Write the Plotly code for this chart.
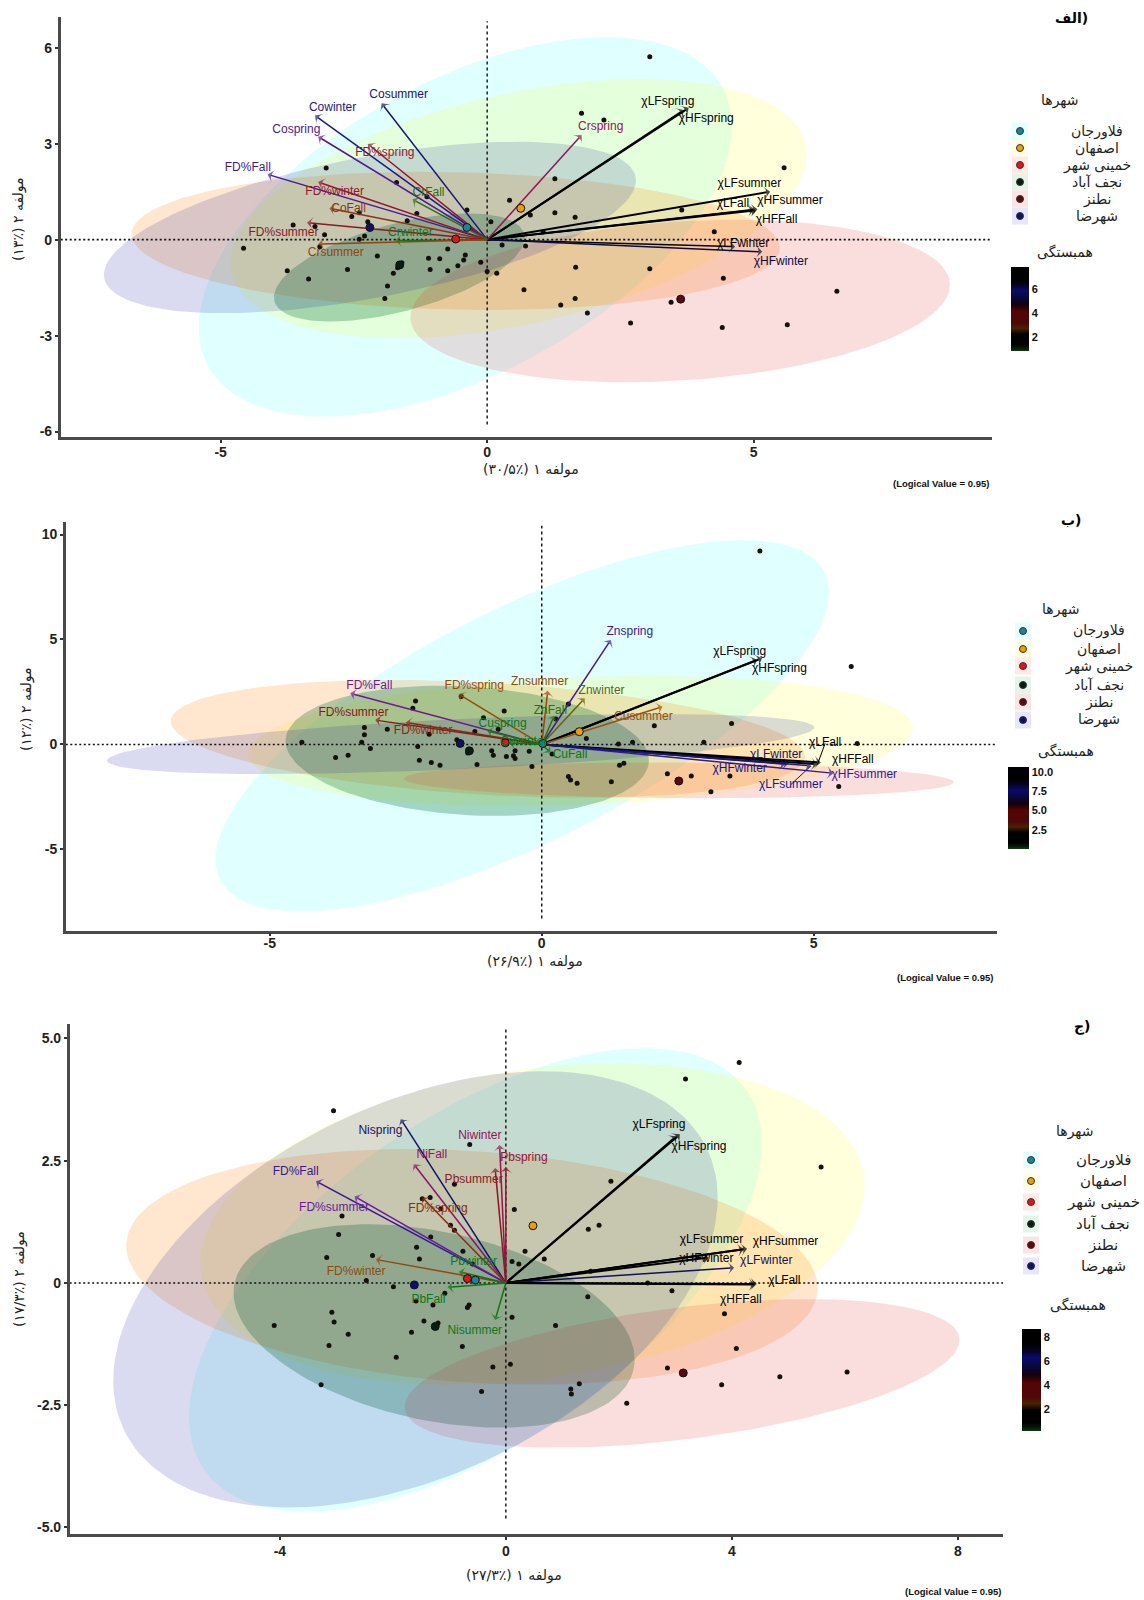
import numpy as np
import plotly.graph_objects as go

W_PX, H_PX = 1144, 1600

cities = ["فلاورجان", "اصفهان", "خمینی شهر", "نجف آباد", "نطنز", "شهرضا"]

# ---------- Panel A ----------
a_xticks = [-5, 0, 5]
a_yticks = [-6, -3, 0, 3, 6]
a_ytext = ["-6", "-3", "0", "3", "6"]
a_xrange = [-8.0, 9.47]
a_yrange = [-6.17, 6.96]
a_ell_cx = [-0.41, 0.59, -0.59, -1.65, 3.62, -2.2]
a_ell_cy = [0.40, 0.97, -0.04, -0.87, -1.92, 0.38]
a_ell_w = [5.0, 5.4, 6.08, 2.35, 5.06, 4.99]
a_ell_h = [5.93, 4.05, 2.16, 1.69, 2.54, 2.68]
a_ell_r = [0.53, 0.42, -0.1, 0.55, 0.2, 0.55]
a_px = [3.05,1.77,2.19,5.57,-3.02,1.27,-1.7,-1.13,.42,-.38,.81,1.27,1.65,3.65,.07,-1.32,-1.5,-2.24,-2.4,-2.54,-3.64,-3.23,-3.05,-2.3,-2.4,1.05,4.26,-4.57,-3.14,.28,.72,-.74,-2.06,-1.1,-.89,-.41,-.44,-.12,-1.6,-1.68,-.55,-.74,-1.07,-2.62,-3.75,-3.35,-1.76,0,.18,1.66,3.05,4.43,-1.87,-1.92,.69,1.65,1.38,1.88,3.45,6.56,2.69,4.41,5.63]
a_py = [5.72,3.95,3.74,2.25,2.24,1.9,1.79,1.34,1.23,.93,.77,.84,.7,.93,.56,.82,.59,.56,.84,.72,.46,.41,.15,.11,.01,.25,.25,-.27,-.22,-.17,-.2,-.29,-.51,-.58,-.6,-.48,-.64,-.71,-.72,-.88,-.82,-.97,-.93,-.93,-.97,-1.23,-1.05,-1.0,-1.05,-.86,-.91,-1.21,-1.45,-1.84,-1.57,-1.84,-2.04,-2.29,-1.96,-1.61,-2.61,-2.75,-2.66]
a_cx = [-.38, .63, -.59, -1.64, 3.63, -2.2]
a_cy = [.38, .98, .02, -.79, -1.86, .38]
a_names = ["χLFspring","χHFspring","χLFsummer","χHFsummer","χLFall","χHFFall","χLFwinter","χHFwinter","Crspring","Cosummer","Cowinter","Cospring","FD%spring","FD%Fall","FD%winter","CoFall","CrFall","FD%summer","Crwinter","Crsummer"]
a_ax = [3.78,3.69,5.31,5.0,5.07,5.04,4.65,5.16,1.77,-1.98,-3.23,-3.17,-2.24,-4.12,-3.17,-2.96,-1.4,-3.38,-1.72,-3.17]
a_ay = [4.12,4.05,1.5,.93,.95,.91,-.22,-.38,3.27,4.26,3.88,3.22,2.99,2.04,1.8,.98,1.26,.53,-.03,-.14]
a_lx = [3.39,4.11,4.92,5.68,4.61,5.43,4.8,5.51,2.13,-1.66,-2.9,-3.58,-1.92,-4.49,-2.86,-2.6,-1.1,-3.82,-1.44,-2.84]
a_ly = [4.31,3.78,1.75,1.2,1.11,.61,-.14,-.69,3.51,4.52,4.11,3.42,2.71,2.25,1.48,.96,1.47,.22,.21,-.43]
a_corr = [7.4,7.4,6.9,6.4,6.6,6.4,6.3,5.9,3.9,5.5,5.3,4.8,3.5,4.9,3.4,2.6,1.3,3.3,1.1,2.4]
a_links = []
a_bar = [0.83, 7.83]
a_bar_ticks = [2, 4, 6]
a_bar_text = ["2", "4", "6"]

# ---------- Panel B ----------
b_xticks = [-5, 0, 5]
b_yticks = [-5, 0, 5, 10]
b_ytext = ["-5", "0", "5", "10"]
b_xrange = [-8.75, 8.37]
b_yrange = [-8.87, 10.61]
b_ell_cx = [-0.36, 0.71, -0.99, -1.37, 2.52, -1.49]
b_ell_cy = [0.89, 0.17, 0.27, -0.3, -1.71, 0.02]
b_ell_w = [5.64, 6.11, 5.83, 3.34, 5.05, 6.5]
b_ell_h = [8.84, 3.1, 2.8, 3.1, 0.85, 1.43]
b_ell_r = [0.72, 0.2, -0.3, -0.15, -0.1, 0.55]
b_px = [4.01,5.69,-2.32,-2.37,-.69,-1.07,-1.48,.49,.26,3.49,2.07,-3.26,-3.26,-2.84,-2.07,-1.23,-.8,-4.41,-3.31,-1.56,.82,1.41,1.67,2.98,5.8,-2.28,-3.15,-1.36,-.92,-.89,-.49,-.23,-.52,-.65,-.49,-3.79,-3.56,-2.25,-2.03,-1.87,-1.19,-.18,.19,1.43,1.51,.49,.53,.65,1.28,2.31,2.75,3.46,3.11,5.46]
b_py = [9.22,3.71,2.07,1.72,1.59,1.27,2.29,1.93,1.21,1.0,.89,.81,.46,.73,.49,.62,.73,.1,.1,.22,.29,.02,.1,.1,.05,-.1,-.19,-.41,-.3,-.51,-.3,-.32,-.54,-.57,-.67,-.62,-.51,-.75,-.86,-.99,-.96,-1.05,-.46,-.99,-.89,-1.53,-1.69,-1.85,-1.77,-1.39,-1.5,-1.5,-2.25,-2.0]
b_cx = [0.02, .69, -.67, -1.33, 2.52, -1.5]
b_cy = [.05, .61, .08, -.3, -1.74, .05]
b_names = ["χLFspring","χHFspring","Znspring","Znsummer","Znwinter","ZnFall","Cusummer","FD%Fall","FD%spring","FD%summer","FD%winter","Cuspring","Cuwinter","CuFall","χLFall","χHFFall","χHFsummer","χLFsummer","χLFwinter","χHFwinter"]
b_ax = [4.05,3.96,1.27,.11,.79,.23,2.22,-3.52,-1.53,-3.06,-2.5,-1.0,-.6,.16,5.07,5.13,5.36,4.95,4.54,4.48]
b_ay = [4.11,4.03,4.98,2.56,2.2,1.37,1.8,2.44,2.4,1.16,1.05,.65,.08,-.38,-.94,-.86,-1.37,-1.02,-.91,-.94]
b_lx = [3.64,4.37,1.62,-.04,1.1,.16,1.87,-3.17,-1.24,-3.46,-2.18,-.72,-.33,.52,5.21,5.72,5.93,4.58,4.31,3.64]
b_ly = [4.41,3.61,5.37,2.96,2.55,1.59,1.31,2.8,2.8,1.5,.62,.96,.13,-.51,.05,-.75,-1.45,-1.91,-.48,-1.18]
b_corr = [10.2,10.2,6.7,3.2,2.5,1.8,3.0,6.0,3.1,4.3,3.8,1.3,1.2,1.1,9.5,8.8,6.9,7.3,7.6,7.4]
b_links = ["χLFall", "χLFsummer"]
b_bar = [0.03, 10.65]
b_bar_ticks = [2.5, 5.0, 7.5, 10.0]
b_bar_text = ["2.5", "5.0", "7.5", "10.0"]

# ---------- Panel C ----------
c_xticks = [-4, 0, 4, 8]
c_yticks = [-5, -2.5, 0, 2.5, 5]
c_ytext = ["-5.0", "-2.5", "0", "2.5", "5.0"]
c_xrange = [-7.72, 8.80]
c_yrange = [-5.13, 5.3]
c_ell_cx = [-0.54, 0.47, -0.6, -1.27, 3.12, -1.6]
c_ell_cy = [0.06, 1.2, 0.33, -0.88, -1.85, -0.13]
c_ell_w = [5.07, 5.88, 6.12, 3.55, 4.91, 5.35]
c_ell_h = [4.74, 3.29, 2.41, 2.08, 1.52, 4.46]
c_ell_r = [0.59, 0.24, -0.18, -0.33, 0.45, 0.42]
c_px = [4.13,3.18,5.58,-3.05,-.64,1.86,-.91,.15,1.46,1.65,-1.34,-1.48,-1.15,-2.9,-.98,-.91,-2.96,-1.33,-1.58,-3.17,-2.36,-1.53,-.76,.34,.68,.11,.23,-.59,1.5,-2.47,-1.99,2.51,2.94,1.45,-1.08,-1.29,-1.59,-.65,-.68,-3.08,-3.04,-2.79,-4.1,-3.13,-1.67,-1.45,-1.2,.11,.88,3.87,4.08,-.77,-1.94,-.23,.08,2.86,3.82,4.85,6.04,-3.27,-.43,1.3,1.15,1.16,2.14]
c_py = [4.51,4.17,2.37,3.52,2.83,2.08,2.02,1.5,1.1,1.18,1.75,1.72,1.52,1.37,1.18,1.08,.99,.94,.73,.52,.56,.49,.65,.65,.49,.44,.39,.39,.24,.05,-.08,0,-.16,-.28,-.21,-.45,-.37,-.45,-.5,-.6,-.8,-1.05,-.87,-1.28,-1.01,-.78,-.82,-.7,-.87,-.63,-1.34,-1.3,-1.52,-1.72,-1.66,-1.74,-2.08,-1.92,-1.82,-2.08,-2.22,-2.06,-2.17,-2.27,-2.46]
c_cx = [-.54, .48, -.68, -1.25, 3.14, -1.62]
c_cy = [.06, 1.17, .09, -.89, -1.84, -.04]
c_names = ["χLFspring","χHFspring","χLFsummer","χHFsummer","χHFwinter","χLFwinter","χLFall","χHFFall","Nispring","Niwinter","Pbspring","NiFall","Pbsummer","FD%Fall","FD%summer","FD%spring","FD%winter","Pbwinter","PbFall","Nisummer"]
c_ax = [3.08,3.02,4.21,4.27,3.59,4.04,4.44,4.41,-1.86,-.11,0,-1.63,-.19,-3.36,-2.68,-1.48,-2.3,-.83,-1.03,-.19]
c_ay = [3.04,3.0,.69,.7,.52,.31,-.02,-.03,3.35,2.82,2.37,2.43,2.35,2.08,1.77,1.75,.48,.23,-.09,-.76]
c_lx = [2.71,3.42,3.64,4.95,3.55,4.61,4.93,4.16,-2.22,-.46,.32,-1.31,-.57,-3.72,-3.04,-1.2,-2.65,-.57,-1.37,-.55]
c_ly = [3.23,2.79,.88,.84,.49,.44,.05,-.34,3.1,3.01,2.55,2.62,2.1,2.26,1.53,1.51,.23,.42,-.34,-.98]
c_corr = [8.6,8.6,8.0,8.0,7.6,6.3,8.3,8.3,6.2,4.3,3.8,4.5,3.6,5.6,5.0,3.0,2.6,1.1,1.1,1.2]
c_links = []
c_bar = [0.17, 8.67]
c_bar_ticks = [2, 4, 6, 8]
c_bar_text = ["2", "4", "6", "8"]

# ---------- layout (pixels in the page) ----------
boxes = [(60.7, 992, 17, 437), (65.8, 997, 521.7, 930.7), (69.7, 1003, 1023.8, 1533.8)]
x_label_shift = [-3, -5, 0]
bar_boxes = [(1011, 1029, 267, 351), (1008, 1029, 767, 849), (1022, 1041, 1329, 1431)]
x_titles = [("مولفه ۱ (٪۳۰/۵)", 531, 470), ("مولفه ۱ (٪۲۶/۹)", 535, 961), ("مولفه ۱ (٪۲۷/۳)", 514, 1575)]
y_titles = [("مولفه ۲ (٪۱۳)", 19, 219), ("مولفه ۲ (٪۱۲)", 26, 709), ("مولفه ۲ (٪۱۷/۳)", 19, 1279)]
panel_tags = [("الف)", 1071, 18), ("ب)", 1071, 520), ("ج)", 1082, 1026)]
logic_pos = [(991, 483), (995, 977), (1003, 1591)]
legend_title_pos = [(1060, 100), (1061, 609), (1075, 1131)]
legend_rows = [[131, 148, 165, 182, 199, 216], [631, 649, 666, 685, 702, 720], [1160, 1181, 1202, 1224, 1245, 1266]]
legend_key_x = [1020, 1023, 1031]
legend_text_x = [1097, 1099, 1103]
corr_title_pos = [(1065, 252), (1066, 751), (1078, 1305)]

fill_colors = ["rgba(0,255,255,0.12)", "rgba(255,255,0,0.14)", "rgba(255,120,0,0.19)",
               "rgba(0,105,45,0.28)", "rgba(225,50,50,0.16)", "rgba(25,30,160,0.16)"]
key_colors = ["#e6ffff", "#fffde6", "#fdebe4", "#e4f4e8", "#fbe4e4", "#e8e6fb"]
dot_colors = ["#12899a", "#e8a200", "#e8101c", "#06200e", "#5a0a10", "#10106a"]

ARROW_STOPS = [(0.0, (8, 120, 20)), (0.13, (8, 120, 20)), (0.28, (150, 85, 10)), (0.38, (130, 25, 20)),
               (0.48, (155, 20, 70)), (0.58, (105, 25, 160)), (0.68, (25, 25, 140)), (0.82, (0, 0, 0)), (1.0, (0, 0, 0))]
BAR_SCALE = [[0, "#0f3a12"], [0.03, "#0a1a0a"], [0.08, "#000000"], [0.2, "#000000"], [0.27, "#4a2300"], [0.33, "#4d0808"],
             [0.47, "#560404"], [0.55, "#14000c"], [0.63, "#08083a"], [0.72, "#0a0a6e"], [0.79, "#04041c"], [0.86, "#000000"], [1, "#000000"]]


def corr_color(v, top):
    f = min(max(v / top, 0), 1)
    for (f0, c0), (f1, c1) in zip(ARROW_STOPS, ARROW_STOPS[1:]):
        if f <= f1:
            k = (f - f0) / (f1 - f0)
            return "rgb(%d,%d,%d)" % tuple(round(a + (b - a) * k) for a, b in zip(c0, c1))
    return "rgb(0,0,0)"


panels = [
    dict(xt=a_xticks, yt=a_yticks, ytx=a_ytext, xr=a_xrange, yr=a_yrange, ecx=a_ell_cx, ecy=a_ell_cy, ew=a_ell_w, eh=a_ell_h, er=a_ell_r,
         px=a_px, py=a_py, cx=a_cx, cy=a_cy, n=a_names, ax=a_ax, ay=a_ay, lx=a_lx, ly=a_ly, corr=a_corr, links=a_links, bar=a_bar, bt=a_bar_ticks, btx=a_bar_text),
    dict(xt=b_xticks, yt=b_yticks, ytx=b_ytext, xr=b_xrange, yr=b_yrange, ecx=b_ell_cx, ecy=b_ell_cy, ew=b_ell_w, eh=b_ell_h, er=b_ell_r,
         px=b_px, py=b_py, cx=b_cx, cy=b_cy, n=b_names, ax=b_ax, ay=b_ay, lx=b_lx, ly=b_ly, corr=b_corr, links=b_links, bar=b_bar, bt=b_bar_ticks, btx=b_bar_text),
    dict(xt=c_xticks, yt=c_yticks, ytx=c_ytext, xr=c_xrange, yr=c_yrange, ecx=c_ell_cx, ecy=c_ell_cy, ew=c_ell_w, eh=c_ell_h, er=c_ell_r,
         px=c_px, py=c_py, cx=c_cx, cy=c_cy, n=c_names, ax=c_ax, ay=c_ay, lx=c_lx, ly=c_ly, corr=c_corr, links=c_links, bar=c_bar, bt=c_bar_ticks, btx=c_bar_text),
]

AR = "DejaVu Sans"
LA = "Liberation Sans"


def X(px):
    return px / W_PX


def Y(py):
    return 1 - py / H_PX


fig = go.Figure()
annotations, shapes, layout_axes = [], [], {}
t = np.linspace(0, 2 * np.pi, 160)

for i, p in enumerate(panels):
    sfx = "" if i == 0 else str(i + 1)
    xa, ya = "x" + sfx, "y" + sfx
    L, R, T, B = boxes[i]
    common = dict(showgrid=False, zeroline=False, showline=True, linecolor="#4a4a4a", linewidth=2.5,
                  ticks="outside", ticklen=3, tickwidth=1.5, tickcolor="#333333", tickmode="array",
                  tickfont=dict(family=LA, size=14, color="#222222", weight="bold"))
    layout_axes["xaxis" + sfx] = dict(domain=[X(L), X(R)], range=p["xr"], tickvals=p["xt"], ticktext=[str(v) for v in p["xt"]],
                                      anchor=ya, ticklabelstandoff=x_label_shift[i], **common)
    layout_axes["yaxis" + sfx] = dict(domain=[Y(B), Y(T)], range=p["yr"], tickvals=p["yt"], ticktext=p["ytx"], anchor=xa, **common)

    # ellipses
    for k in range(6):
        phi = np.arccos(p["er"][k])
        fig.add_trace(go.Scatter(x=p["ecx"][k] + p["ew"][k] * np.cos(t), y=p["ecy"][k] + p["eh"][k] * np.cos(t - phi),
                                 mode="lines", line=dict(width=0), fill="toself", fillcolor=fill_colors[k],
                                 name=cities[k], showlegend=False, hoverinfo="skip", xaxis=xa, yaxis=ya))
    # reference lines at the origin
    fig.add_trace(go.Scatter(x=p["xr"], y=[0, 0], mode="lines", line=dict(color="#111111", width=1.6, dash="2px,2.5px"),
                             showlegend=False, hoverinfo="skip", xaxis=xa, yaxis=ya))
    fig.add_trace(go.Scatter(x=[0, 0], y=[p["yr"][0] + 0.03 * (p["yr"][1] - p["yr"][0]), p["yr"][1] - 0.01 * (p["yr"][1] - p["yr"][0])],
                             mode="lines", line=dict(color="#111111", width=1.4, dash="3px,3px"),
                             showlegend=False, hoverinfo="skip", xaxis=xa, yaxis=ya))
    # points
    fig.add_trace(go.Scatter(x=p["px"], y=p["py"], mode="markers", marker=dict(color="#14100c", size=5),
                             showlegend=False, xaxis=xa, yaxis=ya))
    # arrows
    for name, ex, ey, lx, ly, v in zip(p["n"], p["ax"], p["ay"], p["lx"], p["ly"], p["corr"]):
        col = corr_color(v, p["bar"][1])
        w = 2.0 if v / p["bar"][1] > 0.82 else 1.5
        fig.add_trace(go.Scatter(x=[0, ex], y=[0, ey], mode="lines+markers", line=dict(color=col, width=w),
                                 marker=dict(symbol="arrow-wide", angleref="previous", size=[0, 9], color=col, line=dict(width=0)),
                                 name=name, showlegend=False, xaxis=xa, yaxis=ya))
        if name in p["links"]:
            fig.add_trace(go.Scatter(x=[lx, ex], y=[ly, ey], mode="lines", line=dict(color=col, width=1),
                                     showlegend=False, hoverinfo="skip", xaxis=xa, yaxis=ya))
    # group centres
    for k in range(6):
        fig.add_trace(go.Scatter(x=[p["cx"][k]], y=[p["cy"][k]], mode="markers",
                                 marker=dict(color=dot_colors[k], size=8, line=dict(color="#111111", width=1)),
                                 name=cities[k], showlegend=False, xaxis=xa, yaxis=ya))
    # labels
    fig.add_trace(go.Scatter(x=p["lx"], y=p["ly"], mode="text", text=p["n"], textposition="middle center",
                             textfont=dict(family=LA, size=12, color=[corr_color(v, p["bar"][1]) for v in p["corr"]]),
                             showlegend=False, hoverinfo="skip", xaxis=xa, yaxis=ya))
    # colour bar
    bl, br, bt, bb = bar_boxes[i]
    fig.add_trace(go.Scatter(x=[None], y=[None], mode="markers", showlegend=False, xaxis=xa, yaxis=ya,
                             marker=dict(color=[p["bar"][0]], cmin=p["bar"][0], cmax=p["bar"][1], colorscale=BAR_SCALE, showscale=True,
                                         colorbar=dict(x=X(bl), xanchor="left", xpad=0, ypad=0, y=Y(bb), yanchor="bottom",
                                                       thickness=br - bl, thicknessmode="pixels", len=bb - bt, lenmode="pixels",
                                                       outlinewidth=0, ticks="", tickvals=p["bt"], ticktext=p["btx"],
                                                       tickfont=dict(family=LA, size=11, color="#111111", weight="bold")))))

    # texts and hand-placed legend keys
    def note(txt, x, y, size=12, angle=0, family=AR, anchor="center", weight="normal", color="#222222"):
        annotations.append(dict(text=txt, x=X(x), y=Y(y), xref="paper", yref="paper", showarrow=False, xanchor=anchor, yanchor="middle",
                                textangle=angle, font=dict(family=family, size=size, color=color, weight=weight)))
    note(x_titles[i][0], x_titles[i][1], x_titles[i][2], size=14)
    note(y_titles[i][0], y_titles[i][1], y_titles[i][2], size=14, angle=-90)
    note(panel_tags[i][0], panel_tags[i][1], panel_tags[i][2], size=14, weight="bold", color="#000000")
    note("(Logical Value = 0.95)", logic_pos[i][0], logic_pos[i][1], size=9.5, family=LA, anchor="right", weight="bold", color="#111111")
    note("شهرها", legend_title_pos[i][0], legend_title_pos[i][1], size=14)
    note("همبستگی", corr_title_pos[i][0], corr_title_pos[i][1], size=14)
    for k in range(6):
        ry = legend_rows[i][k]
        kx = legend_key_x[i]
        note(cities[k], legend_text_x[i], ry, size=15 if i == 2 else 14)
        shapes.append(dict(type="rect", xref="paper", yref="paper", x0=X(kx - 8), x1=X(kx + 8), y0=Y(ry - 8.5), y1=Y(ry + 8.5),
                           fillcolor=key_colors[k], line=dict(width=0), layer="below"))
        shapes.append(dict(type="circle", xref="paper", yref="paper", x0=X(kx - 3.5), x1=X(kx + 3.5), y0=Y(ry - 3.5), y1=Y(ry + 3.5),
                           fillcolor=dot_colors[k], line=dict(color="#333333", width=1), layer="above"))

fig.update_layout(width=W_PX, height=H_PX, autosize=False, margin=dict(l=0, r=0, t=0, b=0, autoexpand=False), paper_bgcolor="white", plot_bgcolor="white",
                  showlegend=False, annotations=annotations, shapes=shapes, **layout_axes)

fig.write_html("out.html", config={"displayModeBar": False}, post_script="document.body.style.margin='0';document.body.style.overflow='hidden';")
